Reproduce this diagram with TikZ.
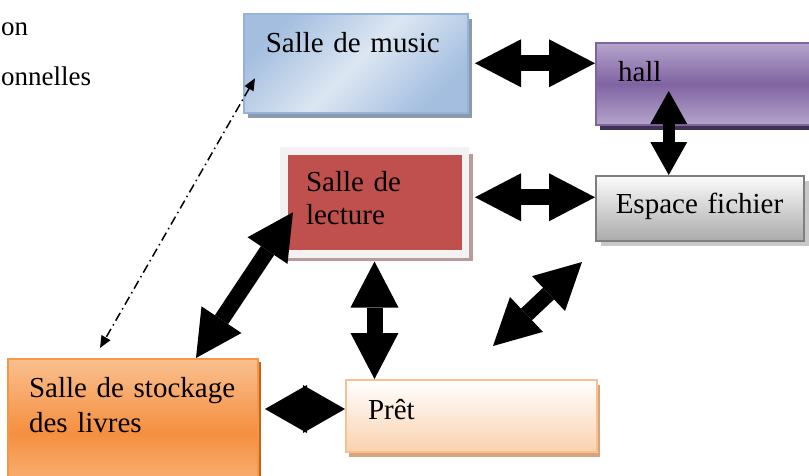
\documentclass[tikz,border=0pt]{standalone}
\usepackage{fontspec}
\setmainfont{Liberation Serif}
\usetikzlibrary{arrows.meta,shadows}
\definecolor{MusicEdge}{HTML}{95B3D7}
\definecolor{MusicDark}{HTML}{A3BEDF}
\definecolor{MusicLight}{HTML}{DCE6F2}
\definecolor{MusicShade}{HTML}{8C9AAC}
\definecolor{HallEdge}{HTML}{8064A2}
\definecolor{HallLight}{HTML}{B5A4CB}
\definecolor{HallDark}{HTML}{8064A2}
\definecolor{HallShade}{HTML}{3F3151}
\definecolor{FileEdge}{HTML}{7F7F7F}
\definecolor{FileLight}{HTML}{FBFBFB}
\definecolor{FileDark}{HTML}{ABABAB}
\definecolor{FileShade}{HTML}{C8C8C8}
\definecolor{ReadFrame}{HTML}{F2F2F2}
\definecolor{ReadRed}{HTML}{C0504D}
\definecolor{ReadShade}{HTML}{B99B9B}
\definecolor{StoreEdge}{HTML}{F79646}
\definecolor{StoreLight}{HTML}{FAC08F}
\definecolor{StoreDark}{HTML}{F58F3F}
\definecolor{StoreShade}{HTML}{C0651C}
\definecolor{LoanEdge}{HTML}{FAC090}
\definecolor{LoanLight}{HTML}{FFFFFF}
\definecolor{LoanDark}{HTML}{FAD1AE}
\definecolor{LoanShade}{HTML}{D7A47E}
\tikzset{
  room/.style={anchor=north west,align=left,inner xsep=22pt,inner ysep=0pt,
    font=\fontsize{29}{33}\selectfont,text=black},
  wide arrow/.style={line width=16pt,
    {Triangle[length=#1,width=48pt,line width=0pt]}-{Triangle[length=#1,width=48pt,line width=0pt]}},
  wide arrow/.default=46pt,
  slim arrow/.style={line width=12pt,
    {Triangle[length=33pt,width=37pt,line width=0pt]}-{Triangle[length=33pt,width=37pt,line width=0pt]}},
  dashdot link/.style={line width=1.5pt,dash pattern=on 9pt off 4pt on 1.5pt off 4pt,
    {Triangle[length=12pt,width=10pt]}-{Triangle[length=12pt,width=10pt]}},
  side text/.style={anchor=base west,inner sep=0pt,font=\fontsize{27}{33}\selectfont}
}
\begin{document}
\begin{tikzpicture}[x=1pt,y=-1pt]
  \useasboundingbox (0,0) rectangle (809,475);
  \clip (0,0) rectangle (809,475);
  % bouts de texte en haut à gauche
  \node[side text] (topline) at (1,35) {on};
  \node[side text] (bottomline) at (1,85) {onnelles};
  % salles
  \node[room,text width=180pt,text height=39pt,text depth=60pt,draw=MusicEdge,line width=1.5pt,
    top color=MusicDark,bottom color=MusicDark,middle color=MusicLight,shading angle=45,
    drop shadow={shadow xshift=4pt,shadow yshift=-5pt,fill=MusicShade,opacity=1}]
    (music) at (243,13) {Salle de music};
  \node[room,text width=191pt,text height=38pt,text depth=44pt,draw=HallEdge,line width=2pt,
    top color=HallLight,bottom color=HallLight,middle color=HallDark,
    drop shadow={shadow xshift=4pt,shadow yshift=-5pt,fill=HallShade,opacity=1}]
    (hall) at (595,42) {hall};
  \node[room,inner xsep=20pt,text width=168pt,text height=38pt,text depth=27pt,draw=FileEdge,line width=1.5pt,
    top color=FileLight,bottom color=FileDark,
    drop shadow={shadow xshift=5pt,shadow yshift=-5pt,fill=FileShade,opacity=1}]
    (espace) at (595,175) {Espace fichier};
  \node[room,inner xsep=22.25pt,text width=137pt,text height=41pt,text depth=62pt,
    draw=ReadFrame,line width=7.5pt,fill=ReadRed,
    drop shadow={shadow xshift=4pt,shadow yshift=-5pt,shadow scale=1.04,fill=ReadShade,opacity=1}]
    (lecture) at (280,147) {Salle de\\lecture};
  \node[room,inner xsep=21pt,text width=208pt,text height=38pt,text depth=110pt,draw=StoreEdge,line width=2pt,
    font=\fontsize{29}{35}\selectfont,
    top color=StoreLight,bottom color=StoreLight,middle color=StoreDark,
    drop shadow={shadow xshift=3pt,shadow yshift=-3pt,fill=StoreShade,opacity=1}]
    (stock) at (7,358) {Salle de stockage\\des livres};
  \node[room,text width=207pt,text height=39pt,text depth=33pt,draw=LoanEdge,line width=2pt,
    top color=LoanLight,bottom color=LoanDark,
    drop shadow={shadow xshift=3pt,shadow yshift=-5pt,fill=LoanShade,opacity=1}]
    (pret) at (345,379) {Prêt};
  % flèches
  \coordinate (freeA) at (493,346);
  \coordinate (freeB) at (582,262);
  \draw[wide arrow,shorten <=6.5pt] (music.east) -- (music.east -| hall.west);
  \draw[wide arrow,shorten <=6pt] ([yshift=5pt]lecture.east) -- ([yshift=5pt]lecture.east -| espace.west);
  \draw[slim arrow,shorten >=7pt] ([xshift=-31pt]espace.north) -- ([xshift=-31pt]espace.north |- hall.center);
  \draw[wide arrow,shorten <=4pt] (lecture.south) -- (lecture.south |- pret.north);
  \draw[wide arrow] ([xshift=13pt,yshift=-10pt]lecture.west) -- ([xshift=63pt]stock.north);
  \draw[wide arrow] (freeA) -- (freeB);
  \draw[wide arrow=42pt,shorten >=6pt] ([yshift=7pt]pret.west) -- ([yshift=7pt]pret.west -| stock.east);
  \draw[dashdot link] ([xshift=12pt,yshift=-15pt]music.west) -- ([xshift=-33pt,yshift=10pt]stock.north);
\end{tikzpicture}
\end{document}
